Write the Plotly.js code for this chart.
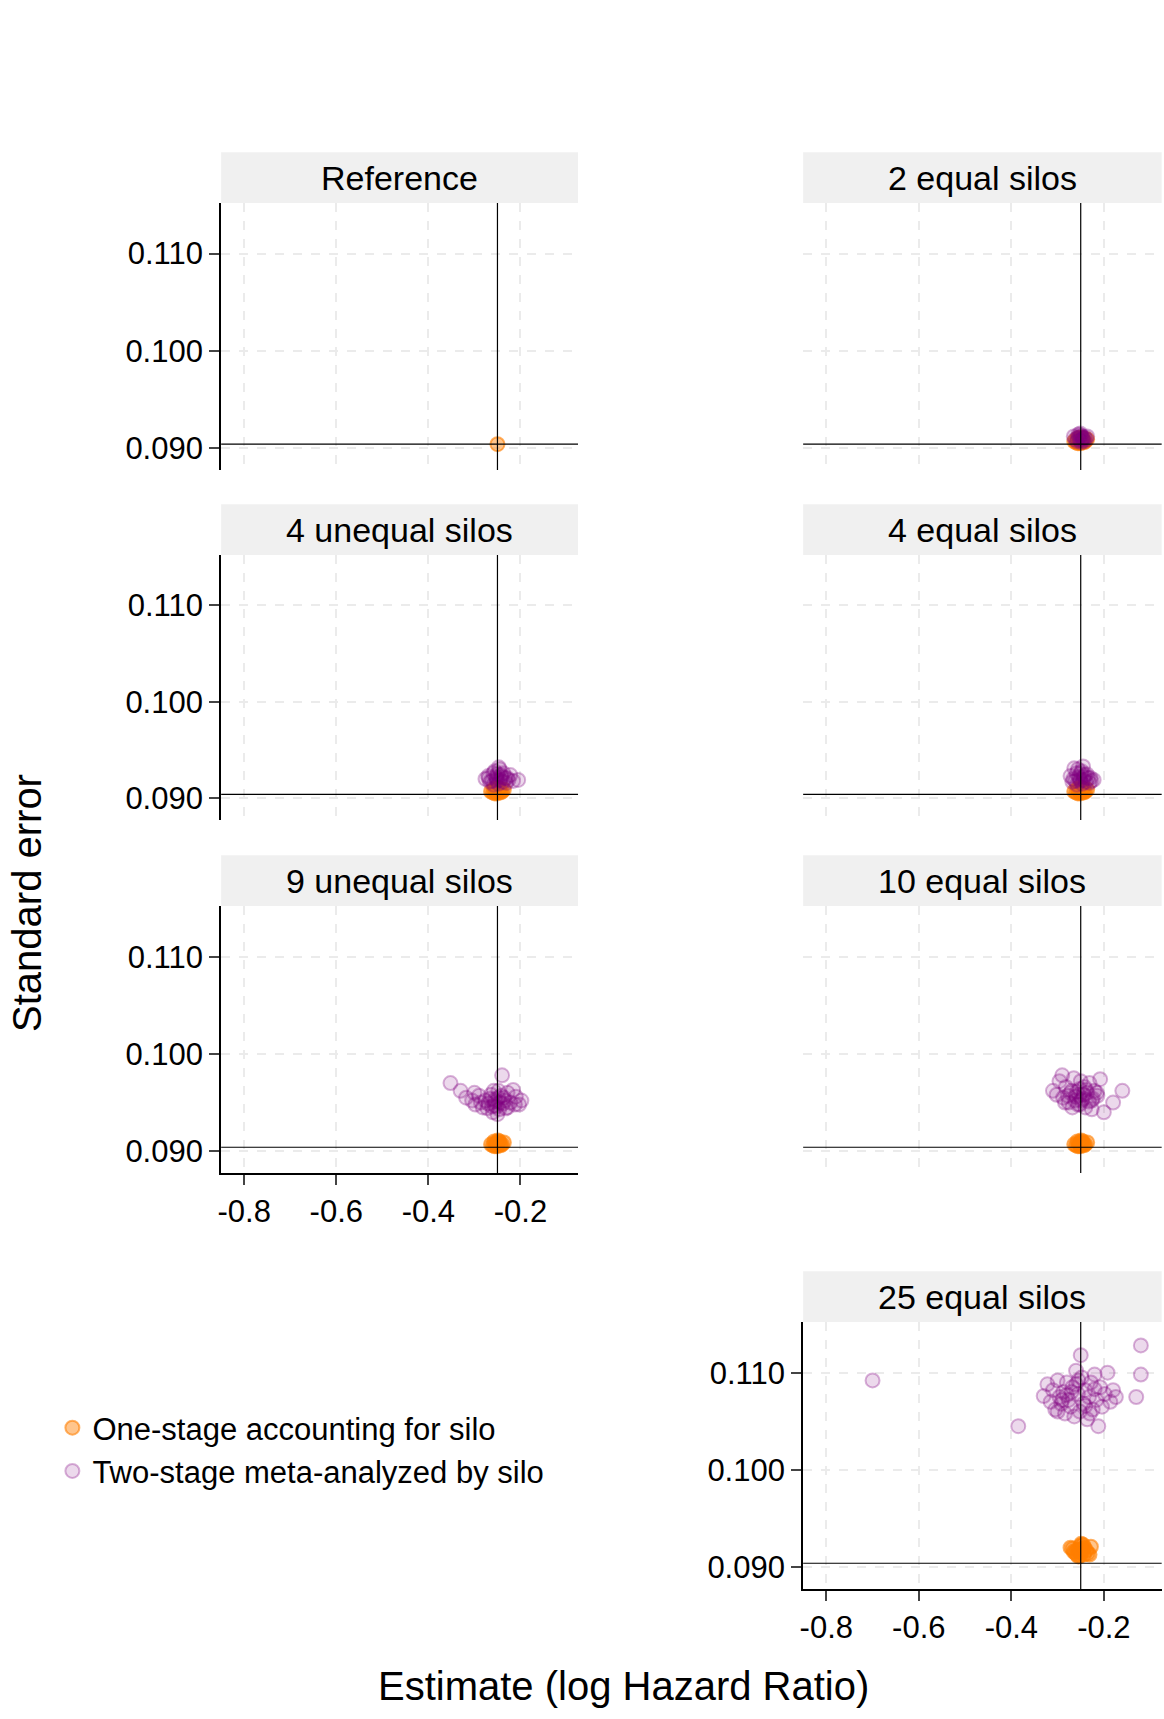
<!DOCTYPE html>
<html>
<head>
<script src="https://cdn.plot.ly/plotly-3.0.1.min.js"></script>
<style>body{margin:0;background:#fff}</style>
</head>
<body>
<div id="myDiv"></div>
<script>
var panels = ['Reference', '2 equal silos', '4 unequal silos', '4 equal silos',
  '9 unequal silos', '10 equal silos', '25 equal silos'];

// one-stage estimates (orange)
var oneRefX = [-0.250];
var oneRefY = [0.0904];
var oneSmallX = [-0.252,-0.248,-0.256,-0.244,-0.250,-0.260,-0.240,-0.251,-0.246,-0.254,-0.236,-0.264,-0.249,-0.243,-0.257];
var oneSmallY = [0.0906,0.0908,0.0905,0.0907,0.0909,0.0906,0.0907,0.0905,0.0910,0.0908,0.0909,0.0907,0.0911,0.0906,0.0910];
var oneLargeX = [-0.252,-0.248,-0.258,-0.242,-0.250,-0.265,-0.235,-0.251,-0.246,-0.254,-0.228,-0.272,-0.249,-0.243,-0.257,-0.262,-0.238,-0.245,-0.255,-0.231,-0.268,-0.247];
var oneLargeY = [0.0915,0.0918,0.0913,0.0920,0.0922,0.0916,0.0914,0.0912,0.0919,0.0917,0.0921,0.0920,0.0924,0.0913,0.0918,0.0915,0.0917,0.0923,0.0911,0.0913,0.0919,0.0916];

// two-stage estimates (purple)
var two2X = [-0.252,-0.246,-0.258,-0.241,-0.250,-0.262,-0.236,-0.249,-0.255,-0.244,-0.253,-0.247,-0.265,-0.238,-0.251,-0.257,-0.243,-0.248];
var two2Y = [0.0908,0.0910,0.0907,0.0911,0.0913,0.0909,0.0912,0.0906,0.0914,0.0910,0.0911,0.0908,0.0912,0.0909,0.0915,0.0910,0.0907,0.0912];
var two4uX = [-0.252,-0.241,-0.262,-0.233,-0.250,-0.270,-0.226,-0.248,-0.256,-0.238,-0.245,-0.276,-0.205,-0.222,-0.259,-0.244,-0.231,-0.266,-0.253,-0.247,-0.237,-0.258,-0.229,-0.251,-0.242,-0.269,-0.216];
var two4uY = [0.0920,0.0922,0.0918,0.0921,0.0925,0.0923,0.0919,0.0915,0.0928,0.0917,0.0930,0.0920,0.0919,0.0924,0.0926,0.0919,0.0916,0.0917,0.0922,0.0932,0.0926,0.0914,0.0921,0.0918,0.0924,0.0921,0.0918];
var two4eX = [-0.252,-0.243,-0.262,-0.234,-0.250,-0.272,-0.227,-0.247,-0.256,-0.239,-0.245,-0.266,-0.222,-0.259,-0.244,-0.231,-0.268,-0.254,-0.248,-0.237,-0.258,-0.229,-0.251,-0.241,-0.264];
var two4eY = [0.0920,0.0922,0.0918,0.0921,0.0926,0.0923,0.0918,0.0915,0.0930,0.0917,0.0933,0.0920,0.0919,0.0926,0.0919,0.0916,0.0917,0.0922,0.0928,0.0925,0.0914,0.0921,0.0918,0.0924,0.0931];
var two9X = [-0.352,-0.330,-0.318,-0.305,-0.298,-0.290,-0.282,-0.276,-0.270,-0.264,-0.260,-0.256,-0.252,-0.248,-0.244,-0.240,-0.236,-0.232,-0.228,-0.222,-0.216,-0.210,-0.203,-0.198,-0.262,-0.254,-0.246,-0.238,-0.266,-0.250,-0.242,-0.228,-0.286,-0.272,-0.258,-0.234,-0.212,-0.300,-0.248,-0.256];
var two9Y = [0.0970,0.0962,0.0955,0.0952,0.0948,0.0957,0.0945,0.0952,0.0949,0.0958,0.0940,0.0953,0.0946,0.0962,0.0950,0.0978,0.0955,0.0944,0.0960,0.0950,0.0963,0.0956,0.0948,0.0952,0.0946,0.0951,0.0943,0.0949,0.0954,0.0938,0.0957,0.0945,0.0950,0.0944,0.0962,0.0952,0.0948,0.0960,0.0955,0.0947];
var two10X = [-0.310,-0.302,-0.296,-0.288,-0.282,-0.276,-0.270,-0.265,-0.260,-0.256,-0.252,-0.248,-0.244,-0.240,-0.236,-0.231,-0.226,-0.220,-0.214,-0.208,-0.290,-0.272,-0.262,-0.250,-0.238,-0.224,-0.160,-0.180,-0.200,-0.268,-0.254,-0.242,-0.232,-0.278,-0.246,-0.258,-0.284,-0.226,-0.215,-0.252];
var two10Y = [0.0962,0.0958,0.0972,0.0955,0.0966,0.0950,0.0962,0.0975,0.0956,0.0948,0.0964,0.0952,0.0958,0.0945,0.0960,0.0970,0.0952,0.0962,0.0957,0.0974,0.0978,0.0960,0.0952,0.0972,0.0963,0.0954,0.0962,0.0950,0.0940,0.0945,0.0958,0.0966,0.0951,0.0957,0.0954,0.0961,0.0950,0.0943,0.0960,0.0948];
var two25X = [-0.700,-0.385,-0.330,-0.322,-0.315,-0.310,-0.305,-0.300,-0.296,-0.292,-0.288,-0.284,-0.280,-0.276,-0.272,-0.268,-0.264,-0.260,-0.256,-0.252,-0.248,-0.244,-0.240,-0.236,-0.232,-0.228,-0.224,-0.220,-0.216,-0.212,-0.208,-0.204,-0.198,-0.192,-0.186,-0.180,-0.174,-0.120,-0.120,-0.130,-0.270,-0.250,-0.230,-0.290,-0.260,-0.240,-0.220,-0.300,-0.280,-0.255];
var two25Y = [0.1092,0.1045,0.1076,0.1088,0.1070,0.1082,0.1062,0.1092,0.1075,0.1068,0.1080,0.1058,0.1090,0.1072,0.1065,0.1085,0.1055,0.1102,0.1078,0.1060,0.1095,0.1068,0.1082,0.1052,0.1075,0.1090,0.1062,0.1098,0.1072,0.1045,0.1085,0.1065,0.1078,0.1100,0.1070,0.1082,0.1075,0.1128,0.1098,0.1075,0.1080,0.1118,0.1058,0.1072,0.1088,0.1066,0.1083,0.1060,0.1077,0.1092];

var oneSets = [[oneRefX,oneRefY],[oneSmallX,oneSmallY],[oneSmallX,oneSmallY],[oneSmallX,oneSmallY],[oneSmallX,oneSmallY],[oneSmallX,oneSmallY],[oneLargeX,oneLargeY]];
var twoSets = [null,[two2X,two2Y],[two4uX,two4uY],[two4eX,two4eY],[two9X,two9Y],[two10X,two10Y],[two25X,two25Y]];

var xDom = [[0.190,0.4966],[0.690,0.998]];
var yDom = [[0.7266,0.8819],[0.5230,0.6771],[0.3176,0.4729],[0.0756,0.2309]];
var pos = [[0,0],[0,1],[1,0],[1,1],[2,0],[2,1],[3,1]];

var data = [], shapes = [], annotations = [];
var layout = {
  width: 1164, height: 1719,
  margin: {l: 0, r: 0, t: 0, b: 0},
  paper_bgcolor: '#fff', plot_bgcolor: '#fff',
  font: {family: 'Liberation Sans', color: '#000'},
  showlegend: true,
  legend: {x: 0.045, y: 0.185, xanchor: 'left', yanchor: 'top', font: {size: 31}, tracegroupgap: 10, traceorder: 'normal'}
};

for (var i = 0; i < panels.length; i++) {
  var r = pos[i][0], c = pos[i][1];
  var sx = i === 0 ? '' : String(i + 1);
  var showX = (i === 4 || i === 6);
  var showY = (c === 0 || i === 6);
  layout['xaxis' + sx] = {
    domain: xDom[c].slice(), range: [-0.85, -0.075], anchor: 'y' + sx,
    tickvals: [-0.8, -0.6, -0.4, -0.2], ticktext: ['-0.8', '-0.6', '-0.4', '-0.2'],
    showticklabels: showX, ticks: showX ? 'outside' : '', ticklen: 10, tickwidth: 2,
    showline: showX, linewidth: 2, linecolor: '#000',
    showgrid: true, gridcolor: '#ebebeb', gridwidth: 2, griddash: 'dash',
    zeroline: false, tickfont: {size: 31}
  };
  layout['yaxis' + sx] = {
    domain: yDom[r].slice(), range: [0.08775, 0.1152], anchor: 'x' + sx,
    tickvals: [0.09, 0.10, 0.11], ticktext: ['0.090', '0.100', '0.110'],
    showticklabels: showY, ticks: showY ? 'outside' : '', ticklen: 10, tickwidth: 2,
    showline: showY, linewidth: 2, linecolor: '#000',
    showgrid: true, gridcolor: '#ebebeb', gridwidth: 2, griddash: 'dash',
    zeroline: false, tickfont: {size: 31}
  };
  data.push({
    x: oneSets[i][0].slice(), y: oneSets[i][1].slice(), xaxis: 'x' + sx, yaxis: 'y' + sx,
    type: 'scatter', mode: 'markers', name: 'One-stage accounting for silo',
    showlegend: i === 0,
    marker: {size: 14, color: 'rgba(255,127,0,0.45)', line: {color: 'rgba(255,127,0,0.6)', width: 2}},
    hoverinfo: 'skip'
  });
  if (twoSets[i]) {
    data.push({
      x: twoSets[i][0].slice(), y: twoSets[i][1].slice(), xaxis: 'x' + sx, yaxis: 'y' + sx,
      type: 'scatter', mode: 'markers', name: 'Two-stage meta-analyzed by silo',
      showlegend: i === 1,
      marker: {size: 14, color: 'rgba(128,0,128,0.15)', line: {color: 'rgba(128,0,128,0.3)', width: 2}},
      hoverinfo: 'skip'
    });
  }
  // reference lines
  var xd = xDom[c], yd = yDom[r];
  shapes.push({type: 'line', xref: 'x' + sx, yref: 'paper', x0: -0.25, x1: -0.25, y0: yd[0], y1: yd[1], line: {color: '#000', width: 1.2}});
  shapes.push({type: 'line', xref: 'paper', yref: 'y' + sx, x0: xd[0], x1: xd[1], y0: 0.0904, y1: 0.0904, line: {color: '#000', width: 1.2}});
  // strip
  shapes.push({type: 'rect', xref: 'paper', yref: 'paper', x0: xd[0], x1: xd[1], y0: yd[1], y1: yd[1] + 0.0295, fillcolor: '#f0f0f0', line: {width: 0}});
  annotations.push({xref: 'paper', yref: 'paper', x: (xd[0] + xd[1]) / 2, y: yd[1] + 0.0148, text: panels[i], showarrow: false, font: {size: 34}, xanchor: 'center', yanchor: 'middle'});
}

annotations.push({xref: 'paper', yref: 'paper', x: 0.536, y: 0.005, text: 'Estimate (log Hazard Ratio)', showarrow: false, font: {size: 40}, xanchor: 'center', yanchor: 'bottom'});
annotations.push({xref: 'paper', yref: 'paper', x: 0.003, y: 0.475, text: 'Standard error', showarrow: false, font: {size: 40}, textangle: -90, xanchor: 'left', yanchor: 'middle'});

layout.shapes = shapes;
layout.annotations = annotations;

Plotly.newPlot('myDiv', data, layout, {displayModeBar: false});
</script>
</body>
</html>
